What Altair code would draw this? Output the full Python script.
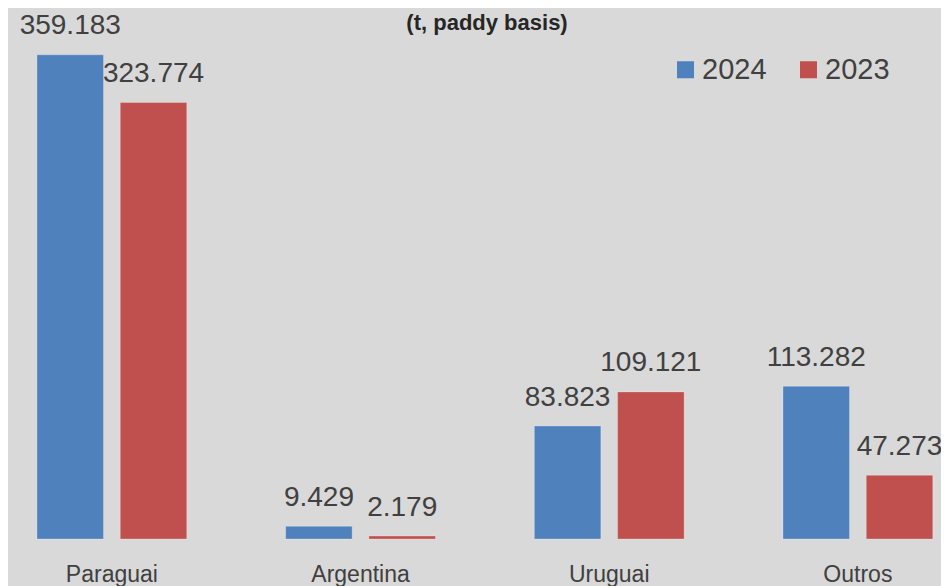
import altair as alt
import pandas as pd

categories = ["Paraguai", "Argentina", "Uruguai", "Outros"]
years = ["2024", "2023"]
values_2024 = [359183, 9429, 83823, 113282]
values_2023 = [323774, 2179, 109121, 47273]
colors = ["#4f81bd", "#c0504d"]
title_text = "(t, paddy basis)"

rows = []
for c, a, b in zip(categories, values_2024, values_2023):
    rows.append({"pais": c, "ano": "2024", "valor": a, "rotulo": f"{a:,}".replace(",", ".")})
    rows.append({"pais": c, "ano": "2023", "valor": b, "rotulo": f"{b:,}".replace(",", ".")})
df = pd.DataFrame(rows)

FONT = "Liberation Sans"
TXT = "#404040"

x = alt.X("pais:N", sort=categories, title=None,
          scale=alt.Scale(range=[-20.46, 974.22], paddingInner=0, paddingOuter=0, round=False),
          axis=alt.Axis(ticks=False, domain=False, grid=False, labelAngle=0,
                        labelFontSize=23, labelColor=TXT, labelFont=FONT,
                        labelPadding=24))
xo = alt.XOffset("ano:N", sort=years,
                 scale=alt.Scale(domain=years, paddingInner=0.2012, paddingOuter=0.594, round=False))
y = alt.Y("valor:Q", title=None,
          scale=alt.Scale(domain=[0, 393900], nice=False, zero=True),
          axis=None)

base = alt.Chart(df)

bars = base.mark_bar(stroke="#ffffff", strokeOpacity=0.25, strokeWidth=1).encode(
    x=x, xOffset=xo, y=y,
    color=alt.Color("ano:N", sort=years,
                    scale=alt.Scale(domain=years, range=colors),
                    legend=alt.Legend(title=None, orient="none", direction="horizontal",
                                      legendX=663, legendY=47, padding=0,
                                      symbolType="square", symbolSize=289,
                                      symbolStrokeWidth=0, labelFontSize=29,
                                      labelFont=FONT, labelColor=TXT,
                                      labelOffset=2, columnPadding=27)),
)

labels = base.mark_text(baseline="alphabetic", dy=-20.5, dx=0, fontSize=28,
                        font=FONT, color=TXT).encode(
    x=x, xOffset=xo, y=y, text="rotulo:N"
)

chart = alt.layer(bars, labels).properties(
    width=933, height=531,
    padding={"left": 0, "top": 0, "right": 0, "bottom": 47},
    autosize=alt.AutoSizeParams(type="none"),
    background="#d9d9d9",
    title=alt.TitleParams(title_text, fontSize=22, font=FONT, fontWeight="bold",
                          color="#262626", anchor="middle", orient="top",
                          offset=-44, dx=12.5, baseline="alphabetic"),
).configure_view(stroke=None)

chart.save("out.html", embed_options={"renderer": "svg", "actions": False})
